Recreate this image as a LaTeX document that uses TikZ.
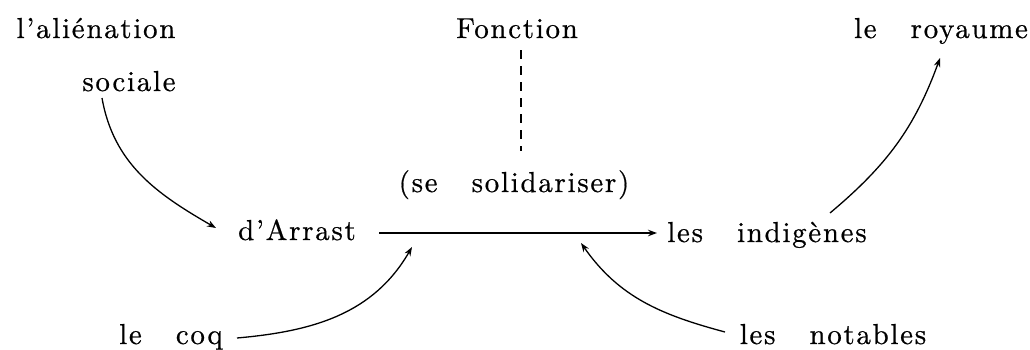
\documentclass[tikz,border=0pt]{standalone}
\usepackage{fontspec}
\setmainfont{lmroman10-regular}[Extension=.otf, LetterSpace=6, WordSpace=3, FakeBold=0.6]
\usetikzlibrary{arrows.meta}
\begin{document}
\begin{tikzpicture}[x=1bp,y=1bp,
  lbl/.style={inner sep=0pt, anchor=base, font=\fontsize{29}{33}\selectfont},
  conn/.style={line width=1.3bp, -{Stealth[length=9bp,width=6.5bp]}},
  dashline/.style={line width=1.3bp, dash pattern=on 9bp off 7bp}]
\useasboundingbox (0,0) rectangle (1030,349);
\node[lbl] (alien) at (96,311) {l'aliénation};
\node[lbl] (sociale) at (129,258) {sociale};
\node[lbl] (fonction) at (517,311) {Fonction};
\node[lbl] (royaume) at (941,311) {le royaume};
\node[lbl] (solid) at (514,157) {(se solidariser)};
\node[lbl] (arrast) at (297,109) {d'Arrast};
\node[lbl] (indig) at (767,107) {les indigènes};
\node[lbl] (coq) at (171,5) {le coq};
\node[lbl] (notables) at (833,5) {les notables};
% free ends
\coordinate (sStart) at (102,251);
\coordinate (sEnd) at (216,121);
\coordinate (mStart) at (379,116);
\coordinate (mEnd) at (657,116);
\coordinate (cStart) at (237,11);
\coordinate (cEnd) at (412,102);
\coordinate (nStart) at (725,17);
\coordinate (nEnd) at (581,106);
\coordinate (rStart) at (830,136);
\coordinate (rEnd) at (940,291);
\coordinate (dTop) at (521,299);
\coordinate (dBot) at (521,198);
\draw[dashline] (dTop) -- (dBot);
\draw[conn] (mStart) -- (mEnd);
\draw[conn] (sStart) to[out=-80, in=150] (sEnd);
\draw[conn] (cStart) to[out=5, in=240] (cEnd);
\draw[conn] (nStart) to[out=165, in=-55] (nEnd);
\draw[conn] (rStart) to[out=40, in=-110] (rEnd);
\end{tikzpicture}
\end{document}
